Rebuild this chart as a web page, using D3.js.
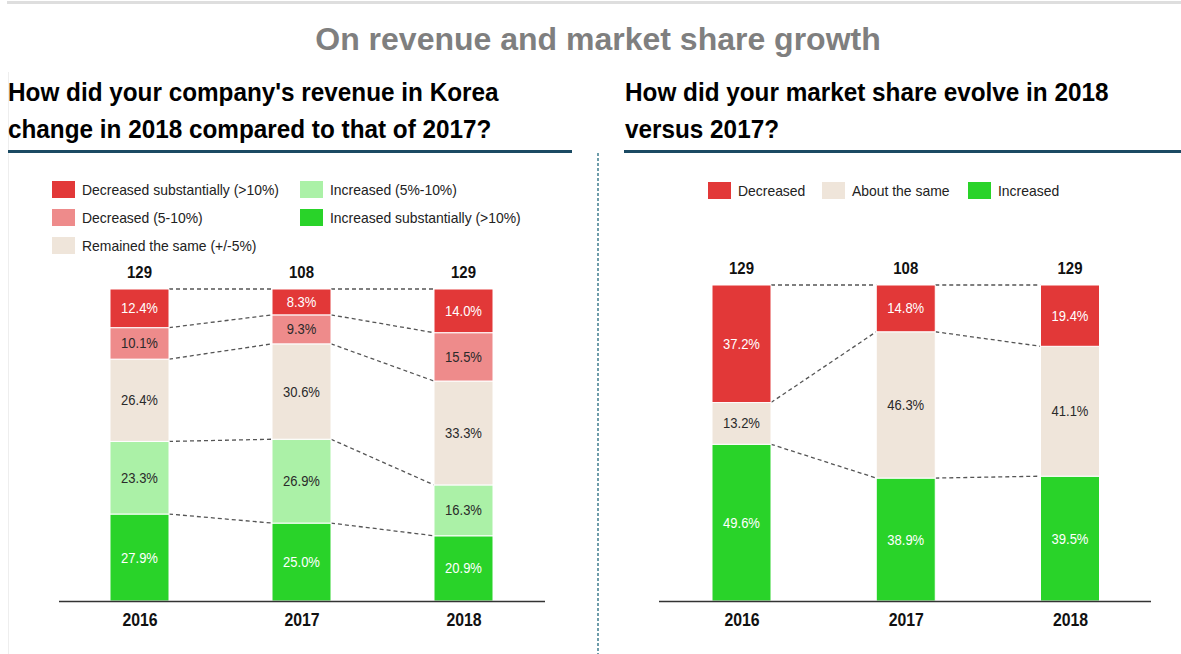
<!DOCTYPE html>
<html>
<head>
<meta charset="utf-8">
<script src="https://cdn.jsdelivr.net/npm/d3@7"></script>
<style>
  body { margin: 0; background: #fff; }
  svg { display: block; font-family: "Liberation Sans", Arial, sans-serif; }
</style>
</head>
<body>
<div id="chart"></div>
<script>
// ---- data ----
const years = ['2016', '2017', '2018'];

// revenue question
const revKeys = ['Increased substantially (>10%)', 'Increased (5%-10%)', 'Remained the same (+/-5%)', 'Decreased (5-10%)', 'Decreased substantially (>10%)'];
const revDecSub  = [12.4, 8.3, 14.0];
const revDec     = [10.1, 9.3, 15.5];
const revSame    = [26.4, 30.6, 33.3];
const revInc     = [23.3, 26.9, 16.3];
const revIncSub  = [27.9, 25.0, 20.9];
const revTotals  = [129, 108, 129];

// market share question
const shareKeys = ['Increased', 'About the same', 'Decreased'];
const shareDec   = [37.2, 14.8, 19.4];
const shareSame  = [13.2, 46.3, 41.1];
const shareInc   = [49.6, 38.9, 39.5];
const shareTotals = [129, 108, 129];

const C_DEC_SUB = '#e23838', C_DEC = '#ee8b8b', C_SAME = '#efe5da', C_INC = '#abf1a7', C_INC_SUB = '#29d329';

const W = 1181, H = 654;
const svg = d3.select('#chart').append('svg').attr('width', W).attr('height', H);

// squeeze text horizontally so it reads like the narrow font of the original
function condense(sel, k) {
    sel.each(function() {
        const len = this.getComputedTextLength();
        d3.select(this).attr('textLength', len * k).attr('lengthAdjust', 'spacingAndGlyphs');
    });
}

// frame bits
svg.append('line').attr('x1', 7).attr('x2', W).attr('y1', 2.5).attr('y2', 2.5)
    .attr('stroke', '#dedede').attr('stroke-width', 3);
svg.append('line').attr('x1', 8.5).attr('x2', 8.5).attr('y1', 72).attr('y2', H)
    .attr('stroke', '#eeeeee').attr('stroke-width', 1);

svg.append('text').attr('x', 598).attr('y', 50).attr('text-anchor', 'middle')
    .attr('font-size', 32).attr('font-weight', 'bold').attr('fill', '#7f7f7f')
    .text('On revenue and market share growth');

function heading(x, lines, x2, x1line) {
    lines.forEach((l, i) => {
        svg.append('text').attr('x', x).attr('y', 101 + i * 37)
            .attr('font-size', 26).attr('font-weight', 'bold').attr('fill', '#000')
            .text(l)
            .call(condense, 24.3 / 26);
    });
    svg.append('line').attr('x1', x1line).attr('x2', x2).attr('y1', 151.5).attr('y2', 151.5)
        .attr('stroke', '#1b4a63').attr('stroke-width', 3);
}
heading(8, ["How did your company's revenue in Korea", 'change in 2018 compared to that of 2017?'], 572, 8);
heading(625, ['How did your market share evolve in 2018', 'versus 2017?'], W, 624);

// separator
svg.append('line').attr('x1', 598).attr('x2', 598).attr('y1', 153).attr('y2', H)
    .attr('stroke', '#3f7d8f').attr('stroke-width', 1.5).attr('stroke-dasharray', '3,2');

function legend(items) {
    const g = svg.append('g');
    items.forEach(it => {
        g.append('rect').attr('x', it.x).attr('y', it.y - 8.5).attr('width', 23).attr('height', 17)
            .attr('fill', it.color);
        g.append('text').attr('x', it.x + 30).attr('y', it.y + 5)
            .attr('font-size', 14.5).attr('fill', '#222').text(it.label)
            .call(condense, 0.96);
    });
}

function stackedChart(opts) {
    const rows = years.map((y, i) => {
        const r = { year: y };
        opts.keys.forEach((k, j) => { r[k] = opts.series[j][i]; });
        return r;
    });
    const stacked = d3.stack().keys(opts.keys).offset(d3.stackOffsetExpand)(rows);
    const x = d3.scalePoint().domain(years).range(opts.xRange);
    const y = d3.scaleLinear().domain([0, 1]).range([601, opts.top]);
    const bw = 59;
    const color = d3.scaleOrdinal().domain(opts.keys).range(opts.colors);
    const g = svg.append('g');

    // connectors
    stacked.forEach(layer => {
        for (let i = 0; i < years.length - 1; i++) {
            g.append('line')
                .attr('x1', x(years[i]) + bw / 2).attr('y1', y(layer[i][1]))
                .attr('x2', x(years[i + 1]) - bw / 2).attr('y2', y(layer[i + 1][1]))
                .attr('stroke', '#555').attr('stroke-width', 1.3).attr('stroke-dasharray', '4,3');
        }
    });

    const layers = g.selectAll('g.layer').data(stacked).join('g').attr('class', 'layer')
        .attr('fill', d => color(d.key));
    layers.selectAll('rect').data(d => d).join('rect')
        .attr('x', d => x(d.data.year) - bw / 2)
        .attr('y', d => y(d[1]))
        .attr('width', bw)
        .attr('height', d => y(d[0]) - y(d[1]))
        .attr('stroke', '#fff').attr('stroke-width', 1);

    layers.each(function(layer) {
        const light = opts.whiteText.includes(layer.key);
        d3.select(this).selectAll('text').data(layer).join('text')
            .attr('x', d => x(d.data.year))
            .attr('y', d => (y(d[0]) + y(d[1])) / 2 + 5)
            .attr('text-anchor', 'middle').attr('font-size', 14)
            .attr('fill', light ? '#fff' : '#2a2a2a')
            .text(d => d.data[layer.key].toFixed(1) + '%')
            .call(condense, 0.93);
    });

    // totals
    g.selectAll('text.total').data(opts.totals).join('text').attr('class', 'total')
        .attr('x', (d, i) => x(years[i])).attr('y', opts.top - 11)
        .attr('text-anchor', 'middle').attr('font-size', 17).attr('font-weight', 'bold')
        .attr('fill', '#111').text(d => d)
        .call(condense, 0.88);

    // axis
    const axis = g.append('g').attr('transform', 'translate(0,601.5)')
        .call(d3.axisBottom(x).tickSize(0).tickPadding(12));
    axis.select('.domain').attr('d', `M${opts.axisRange[0]},0H${opts.axisRange[1]}`)
        .attr('stroke', '#333').attr('stroke-width', 1.6);
    axis.selectAll('text').attr('font-size', 18).attr('font-weight', 'bold')
        .attr('fill', '#111').attr('font-family', '"Liberation Sans", Arial, sans-serif')
        .call(condense, 0.88);
}

// left chart
legend([
    { x: 52, y: 189.5, color: C_DEC_SUB, label: revKeys[4] },
    { x: 52, y: 217.5, color: C_DEC, label: revKeys[3] },
    { x: 52, y: 245.5, color: C_SAME, label: revKeys[2] },
    { x: 300, y: 189.5, color: C_INC, label: revKeys[1] },
    { x: 300, y: 217.5, color: C_INC_SUB, label: revKeys[0] }
]);
stackedChart({
    keys: revKeys,
    series: [revIncSub, revInc, revSame, revDec, revDecSub],
    colors: [C_INC_SUB, C_INC, C_SAME, C_DEC, C_DEC_SUB],
    whiteText: [revKeys[0], revKeys[4]],
    totals: revTotals,
    xRange: [139.5, 463.5],
    top: 289,
    axisRange: [59, 545]
});

// right chart
legend([
    { x: 708, y: 190.5, color: C_DEC_SUB, label: 'Decreased' },
    { x: 822, y: 190.5, color: C_SAME, label: 'About the same' },
    { x: 968, y: 190.5, color: C_INC_SUB, label: 'Increased' }
]);
stackedChart({
    keys: shareKeys,
    series: [shareInc, shareSame, shareDec],
    colors: [C_INC_SUB, C_SAME, C_DEC_SUB],
    whiteText: ['Increased', 'Decreased'],
    totals: shareTotals,
    xRange: [741.5, 1070],
    top: 285,
    axisRange: [659, 1151]
});
</script>
</body>
</html>
